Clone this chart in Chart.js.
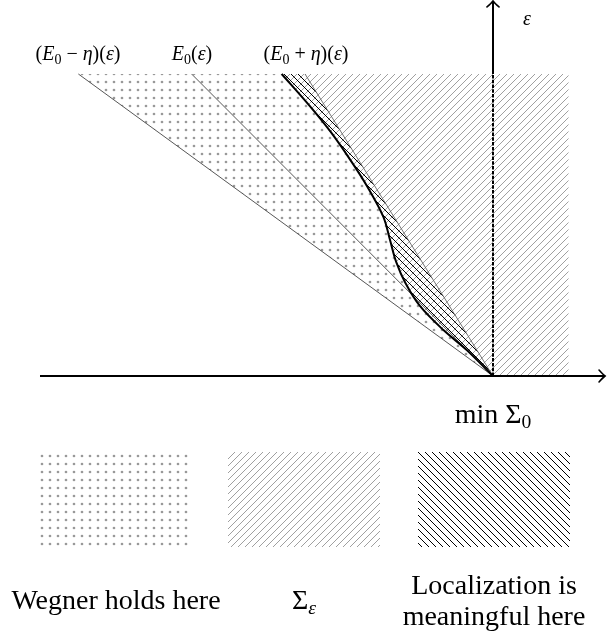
<!DOCTYPE html>
<html><head><meta charset="utf-8">
<script src="https://cdn.jsdelivr.net/npm/chart.js@4/dist/chart.umd.min.js"></script>
<style>
html,body{margin:0;padding:0;background:#fff;}
#wrap{position:relative;width:607px;height:635px;overflow:hidden;}
#c{position:absolute;left:0;top:0;}
.lbl{position:absolute;font-family:"Liberation Serif","DejaVu Serif",serif;color:#000;white-space:nowrap;transform:translate(-50%,-50%);line-height:1;}
.lbl i{font-style:italic;}
.lbl sub{font-size:0.7em;vertical-align:-0.28em;line-height:0;}
.sw{position:absolute;}
</style></head><body>
<div id="wrap">
<canvas id="c" width="607" height="635"></canvas>
<div class="lbl" style="left:78px;top:53px;font-size:20px;">(<i>E</i><sub>0</sub> − <i>η</i>)(<i>ε</i>)</div>
<div class="lbl" style="left:192px;top:53px;font-size:20px;"><i>E</i><sub>0</sub>(<i>ε</i>)</div>
<div class="lbl" style="left:306px;top:53px;font-size:20px;">(<i>E</i><sub>0</sub> + <i>η</i>)(<i>ε</i>)</div>
<div class="lbl" style="left:527px;top:18px;font-size:20px;"><i>ε</i></div>
<div class="lbl" style="left:493px;top:414px;font-size:28px;">min Σ<sub>0</sub></div>
<div class="sw" id="sw1" style="left:40px;top:454px;width:149px;height:93px;"></div>
<div class="sw" id="sw2" style="left:228px;top:452px;width:152px;height:95px;"></div>
<div class="sw" id="sw3" style="left:418px;top:452px;width:152px;height:95px;"></div>
<div class="lbl" style="left:116px;top:600px;font-size:28px;">Wegner holds here</div>
<div class="lbl" style="left:304px;top:600px;font-size:28px;">Σ<sub><i>ε</i></sub></div>
<div class="lbl" style="left:494px;top:585px;font-size:28px;">Localization is</div>
<div class="lbl" style="left:494px;top:616px;font-size:28px;">meaningful here</div>
</div>
<script>
// ---- data (σ relative to min Σ0, ε) ----
const epsLine = [0, 1.0];
const sigmaE0minusEta = [0, -1.373];
const sigmaE0 = [0, -0.998];
const sigmaE0plusEta = [0, -0.6225];
const curveEps   = [0, 0.086, 0.152, 0.232, 0.308, 0.376, 0.450, 0.527, 0.627, 0.715, 0.809, 0.892, 1.0];
const curveSigma = [0, -0.087, -0.164, -0.242, -0.290, -0.320, -0.341, -0.363, -0.416, -0.472, -0.538, -0.605, -0.6997];
const sigmaRight = 0.25;
const epsTop = 1.0;
// view window
const xMin = -1.63245, xMax = 0.37748, yMin = -0.85762, yMax = 1.24503;
const hAxisFrom = -1.5, hAxisTo = 0.371, vAxisTo = 1.242;

// ---- patterns ----
function makeTile(size, draw){
  const cv = document.createElement('canvas');
  cv.width = size; cv.height = size;
  const g = cv.getContext('2d');
  draw(g, size);
  return cv;
}
const dotTile = makeTile(8, (g)=>{ g.fillStyle='#999'; g.beginPath(); g.arc(2,2,1.35,0,Math.PI*2); g.fill(); });
const neTile = makeTile(7, (g,t)=>{ g.strokeStyle='#959595'; g.lineWidth=0.9;
  g.beginPath(); g.moveTo(-1,t+1); g.lineTo(t+1,-1); g.moveTo(-1,1); g.lineTo(1,-1); g.moveTo(t-1,t+1); g.lineTo(t+1,t-1); g.stroke(); });
const nwTile = makeTile(7, (g,t)=>{ g.strokeStyle='#000'; g.lineWidth=1;
  g.beginPath(); g.moveTo(-1,-1); g.lineTo(t+1,t+1); g.moveTo(-1,t-1); g.lineTo(1,t+1); g.moveTo(t-1,-1); g.lineTo(t+1,1); g.stroke(); });
const cctx = document.getElementById('c').getContext('2d');
const dotPat = cctx.createPattern(dotTile,'repeat');
const nePat = cctx.createPattern(neTile,'repeat');
const nwPat = cctx.createPattern(nwTile,'repeat');
document.getElementById('sw1').style.background = 'url('+dotTile.toDataURL()+')';
document.getElementById('sw2').style.background = 'url('+neTile.toDataURL()+')';
document.getElementById('sw3').style.background = 'url('+nwTile.toDataURL()+')';

// ---- shapes built from data ----
const curvePts = curveEps.map((e,i)=>({x:curveSigma[i], y:e}));
const curveTopDown = curvePts.slice().reverse();
const dotsPoly = [{x:sigmaE0minusEta[0],y:epsLine[0]},{x:sigmaE0minusEta[1],y:epsLine[1]}].concat(curveTopDown);
const hatchPoly = curvePts.concat([{x:sigmaRight,y:epsTop},{x:sigmaRight,y:0},{x:0,y:0}]);
const lensPoly = curvePts.concat([{x:sigmaE0plusEta[1],y:epsLine[1]},{x:sigmaE0plusEta[0],y:epsLine[0]}]);
const lineOf = (s)=>s.map((v,i)=>({x:v,y:epsLine[i]}));

const axesPlugin = {
  id:'axesArrows',
  afterDatasetsDraw(chart){
    const {ctx, scales:{x,y}} = chart;
    const x0 = x.getPixelForValue(0), y0 = y.getPixelForValue(0);
    const yT = y.getPixelForValue(epsTop);
    const xa = x.getPixelForValue(hAxisFrom), xb = x.getPixelForValue(hAxisTo);
    const yb = y.getPixelForValue(vAxisTo);
    ctx.save();
    ctx.strokeStyle='#000'; ctx.lineWidth=2; ctx.lineCap='butt';
    ctx.beginPath(); ctx.moveTo(xa,y0); ctx.lineTo(xb-1,y0); ctx.stroke();
    ctx.beginPath(); ctx.moveTo(x0,yT); ctx.lineTo(x0,yb+1); ctx.stroke();
    ctx.setLineDash([3.5,1.3]);
    ctx.beginPath(); ctx.moveTo(x0,y0); ctx.lineTo(x0,yT); ctx.stroke();
    ctx.setLineDash([]);
    ctx.lineWidth=1.6; ctx.lineCap='round';
    ctx.beginPath();
    ctx.moveTo(xb-6,y0-6); ctx.quadraticCurveTo(xb-2,y0-1.5,xb,y0); ctx.quadraticCurveTo(xb-2,y0+1.5,xb-6,y0+6);
    ctx.moveTo(x0-6,yb+6); ctx.quadraticCurveTo(x0-1.5,yb+2,x0,yb); ctx.quadraticCurveTo(x0+1.5,yb+2,x0+6,yb+6);
    ctx.stroke();
    ctx.restore();
  }
};

new Chart(document.getElementById('c'), {
  type:'scatter',
  data:{ datasets:[
    {data:curvePts, showLine:true, borderColor:'#000', borderWidth:2, tension:0.35, fill:false, pointRadius:0, order:1},
    {data:lineOf(sigmaE0plusEta), showLine:true, borderColor:'#666', borderWidth:0.9, fill:false, pointRadius:0, order:2},
    {data:lineOf(sigmaE0), showLine:true, borderColor:'#444', borderWidth:0.9, fill:false, pointRadius:0, order:3},
    {data:lineOf(sigmaE0minusEta), showLine:true, borderColor:'#444', borderWidth:0.9, fill:false, pointRadius:0, order:4},
    {data:lensPoly, showLine:true, borderWidth:0, borderColor:'rgba(0,0,0,0)', backgroundColor:nwPat, fill:'shape', pointRadius:0, order:5},
    {data:hatchPoly, showLine:true, borderWidth:0, borderColor:'rgba(0,0,0,0)', backgroundColor:nePat, fill:'shape', pointRadius:0, order:6},
    {data:dotsPoly, showLine:true, borderWidth:0, borderColor:'rgba(0,0,0,0)', backgroundColor:dotPat, fill:'shape', pointRadius:0, order:7}
  ]},
  options:{
    responsive:false, animation:false, events:[],
    layout:{padding:0},
    plugins:{legend:{display:false}, tooltip:{enabled:false}},
    scales:{
      x:{type:'linear', display:false, min:xMin, max:xMax},
      y:{type:'linear', display:false, min:yMin, max:yMax}
    }
  },
  plugins:[axesPlugin]
});
</script>
</body></html>
